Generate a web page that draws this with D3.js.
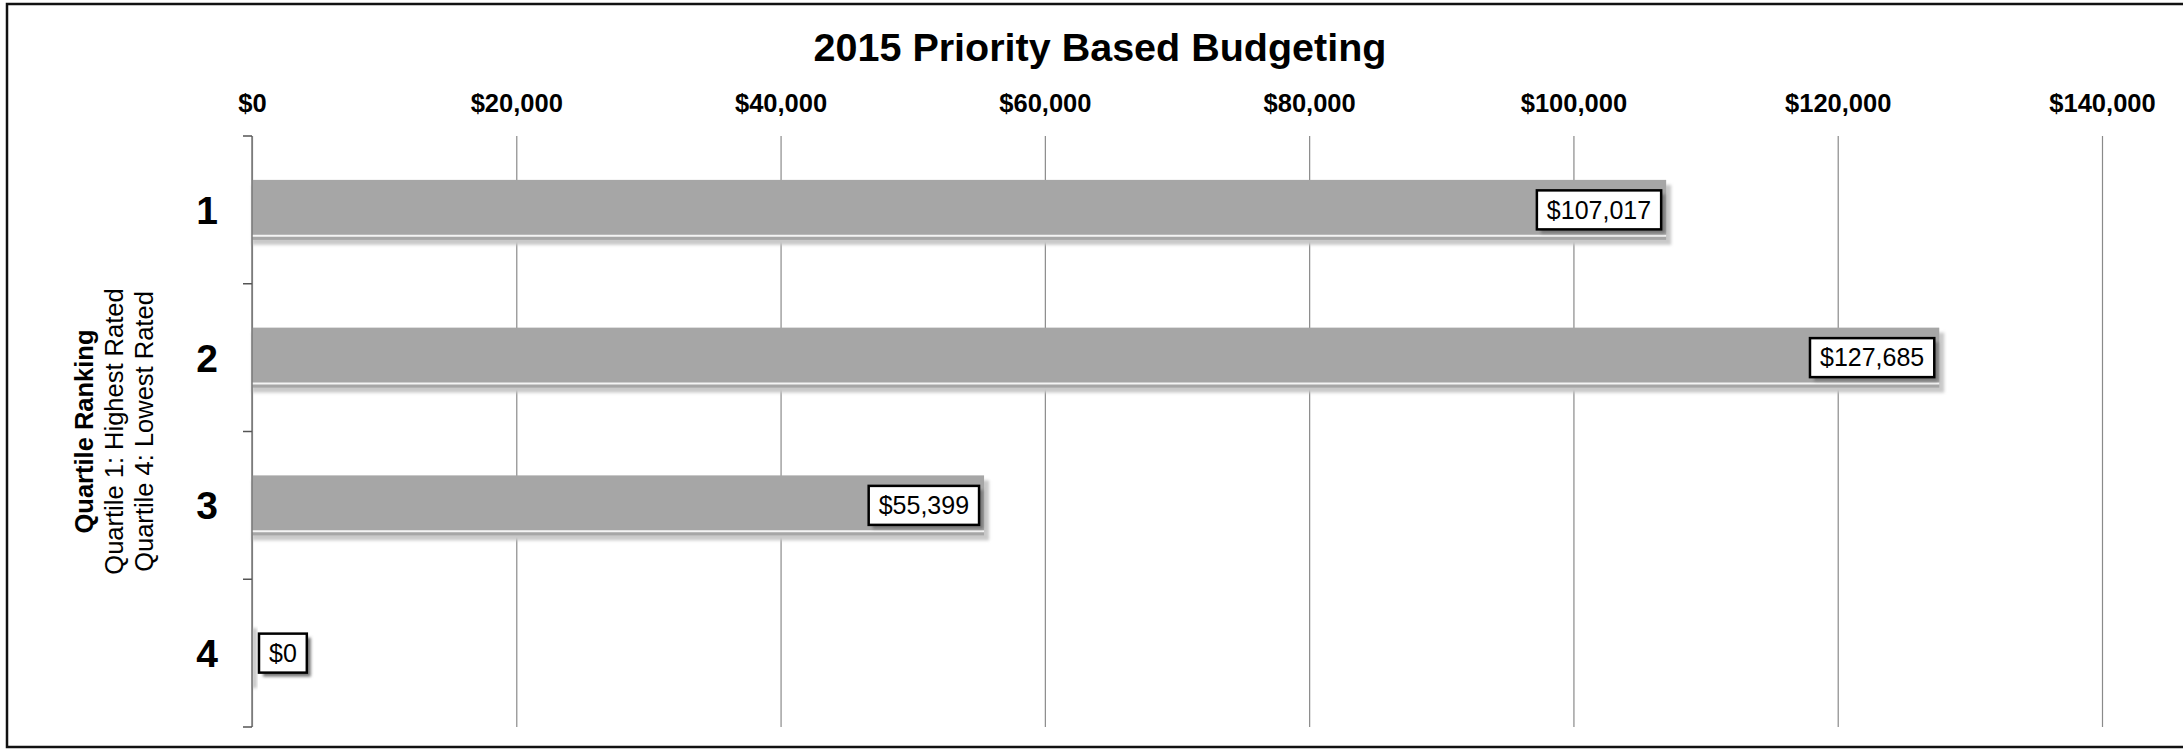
<!DOCTYPE html>
<html>
<head>
<meta charset="utf-8">
<title>2015 Priority Based Budgeting</title>
<script src="https://cdn.jsdelivr.net/npm/d3@7/dist/d3.min.js"></script>
<style>
  html, body { margin: 0; padding: 0; background: #fff; }
  svg { display: block; }
  text { font-family: Arial, "Liberation Sans", Helvetica, sans-serif; fill: #000; }
</style>
</head>
<body>
<svg id="chart" width="2183" height="754"></svg>
<script>
// Quartile budget totals
const categories = ["1", "2", "3", "4"];
const budgets = [107017, 127685, 55399, 0];
const xTickValues = [0, 20000, 40000, 60000, 80000, 100000, 120000, 140000];
const chartTitle = "2015 Priority Based Budgeting";
const yTitleLines = ["Quartile Ranking", "Quartile 1: Highest Rated", "Quartile 4: Lowest Rated"];

const W = 2183, H = 754;
const plot = { left: 252, right: 2102, top: 136, bottom: 727 };

const svg = d3.select("#chart");
const money = d3.format("$,.0f");

const defs = svg.append("defs");
const soft = defs.append("filter").attr("id", "soft")
  .attr("x", "-10%").attr("y", "-30%").attr("width", "130%").attr("height", "180%");
soft.append("feGaussianBlur").attr("stdDeviation", 1.6);

const x = d3.scaleLinear().domain([0, 140000]).range([plot.left, plot.right]);
const y = d3.scaleBand().domain(categories).range([plot.top, plot.bottom])
  .paddingInner(0.594).paddingOuter(0.297);

// outer frame
svg.append("rect")
  .attr("x", 7).attr("y", 4).attr("width", W + 10).attr("height", 743)
  .attr("fill", "#fff").attr("stroke", "#111").attr("stroke-width", 2.5);

// title
svg.append("text")
  .attr("x", 1100).attr("y", 61)
  .attr("text-anchor", "middle")
  .style("font-size", "39.5px").style("font-weight", "bold")
  .text(chartTitle);

// vertical gridlines
const grid = svg.append("g")
  .attr("transform", `translate(0,${plot.top})`)
  .call(d3.axisBottom(x).tickValues(xTickValues).tickSize(plot.bottom - plot.top).tickFormat(""));
grid.select(".domain").remove();
grid.selectAll("line").attr("stroke", "#8a8a8a").attr("stroke-width", 1.2);

// top tick labels
const topAxis = svg.append("g")
  .attr("transform", `translate(0,${plot.top})`)
  .call(d3.axisTop(x).tickValues(xTickValues).tickSize(0).tickPadding(24).tickFormat(money));
topAxis.select(".domain").remove();
topAxis.selectAll("text")
  .style("font-size", "25.5px").style("font-weight", "bold")
  .style("font-family", "Arial, 'Liberation Sans', sans-serif").attr("fill", "#000");

// bars: soft shadow, fill, highlight line
const bars = svg.append("g");
const bh = y.bandwidth();
bars.selectAll("rect.shadow").data(categories).join("rect")
  .attr("class", "shadow")
  .attr("x", x(0))
  .attr("y", (c) => y(c) + 5)
  .attr("width", (c, i) => Math.max(0, x(budgets[i]) - x(0) + 5))
  .attr("height", bh)
  .attr("fill", "#c9c9c9")
  .attr("filter", "url(#soft)");
bars.selectAll("rect.bar").data(categories).join("rect")
  .attr("class", "bar")
  .attr("x", x(0))
  .attr("y", (c) => y(c))
  .attr("width", (c, i) => x(budgets[i]) - x(0))
  .attr("height", bh)
  .attr("fill", "#a6a6a6");
bars.selectAll("line.hl").data(categories).join("line")
  .attr("class", "hl")
  .attr("x1", x(0))
  .attr("x2", (c, i) => x(budgets[i]))
  .attr("y1", (c) => y(c) + bh - 4)
  .attr("y2", (c) => y(c) + bh - 4)
  .attr("stroke", "#f4f4f4")
  .attr("stroke-width", (c, i) => budgets[i] > 0 ? 2 : 0);

// left axis line with boundary ticks
const yAxisG = svg.append("g");
yAxisG.append("line")
  .attr("x1", plot.left).attr("x2", plot.left)
  .attr("y1", plot.top).attr("y2", plot.bottom)
  .attr("stroke", "#777").attr("stroke-width", 1.5);
const bounds = categories.map((c) => y(c) - y.step() * y.paddingInner() / 2)
  .concat([y(categories[categories.length - 1]) + bh + y.step() * y.paddingInner() / 2]);
yAxisG.selectAll("line.tick").data(bounds).join("line")
  .attr("class", "tick")
  .attr("x1", plot.left - 9).attr("x2", plot.left)
  .attr("y1", (d) => d).attr("y2", (d) => d)
  .attr("stroke", "#555").attr("stroke-width", 1.5);

// category labels
const catAxis = svg.append("g")
  .attr("transform", `translate(218,0)`)
  .call(d3.axisLeft(y).tickSize(0).tickPadding(0));
catAxis.select(".domain").remove();
catAxis.selectAll("text")
  .style("font-size", "39px").style("font-weight", "bold")
  .style("font-family", "Arial, 'Liberation Sans', sans-serif").attr("fill", "#000")
  .attr("dy", "0.36em");

// rotated axis title
const yt = svg.append("text")
  .attr("transform", `translate(0,${(plot.top + plot.bottom) / 2}) rotate(-90)`)
  .attr("text-anchor", "middle")
  .style("font-size", "25.5px");
yTitleLines.forEach((line, i) => {
  yt.append("tspan")
    .attr("x", 0)
    .attr("y", 93 + i * 30)
    .style("font-weight", i === 0 ? "bold" : "normal")
    .text(line);
});

// value labels in boxes
const labels = svg.append("g");
categories.forEach((c, i) => {
  const v = budgets[i];
  const cy = y(c) + bh / 2;
  const g = labels.append("g");
  const t = g.append("text")
    .attr("y", cy)
    .attr("dy", "0.35em")
    .style("font-size", "25px")
    .text(money(v));
  const tw = t.node().getComputedTextLength();
  const padX = 10, boxH = 39;
  const boxW = tw + padX * 2;
  let bx = x(v) - 5 - boxW;
  if (bx < x(0) + 4) bx = x(v) + 7;
  t.attr("x", bx + padX);
  g.insert("rect", "text")
    .attr("x", bx + 4).attr("y", cy - boxH / 2 + 4)
    .attr("width", boxW).attr("height", boxH)
    .attr("fill", "#777").attr("filter", "url(#soft)");
  g.insert("rect", "text")
    .attr("x", bx).attr("y", cy - boxH / 2)
    .attr("width", boxW).attr("height", boxH)
    .attr("fill", "#fff").attr("stroke", "#000").attr("stroke-width", 2.5);
});
</script>
</body>
</html>
